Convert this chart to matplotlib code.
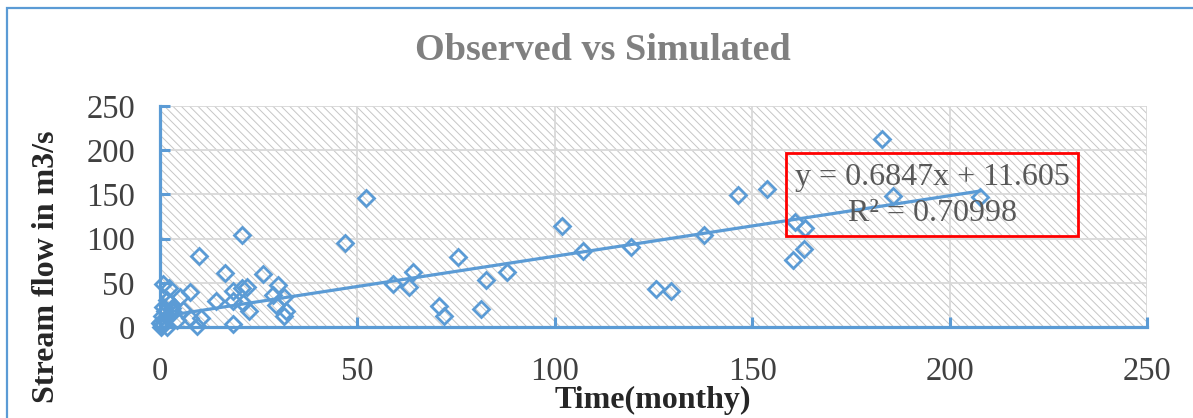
import matplotlib
matplotlib.use("Agg")
import matplotlib.pyplot as plt
from matplotlib.patches import Rectangle
import numpy as np

# Monthly time index and stream flow (m3/s)
time_months = [
    0.0, 0.3, 1.7, 0.4, 0.8, 0.8, 2.4, 1.7, 2.5, 3.4, 4.2, 5.9, 5.0, 7.6, 7.6,
    9.3, 10.5, 10.0, 14.3, 16.4, 18.6, 18.6, 18.6, 20.7, 20.7, 22.0, 21.1, 22.6,
    26.2, 29.9, 28.7, 31.4, 29.4, 32.0, 31.4, 1.0, 0.5, 2.0, 1.2, 0.2, 3.0,
    46.8, 52.2, 58.9, 63.1, 64.1, 70.7, 71.9, 75.4, 81.4, 82.7, 87.8,
    101.9, 107.2, 119.4, 125.7, 129.5, 137.7, 146.4, 153.8,
    160.3, 160.8, 163.0, 163.5, 183.0, 185.6, 207.6,
]
stream_flow = [
    4, 0, 0, 13, 23, 49, 44, 30, 27, 17, 8, 19, 34, 40, 10,
    1, 10, 80, 29, 61, 41, 29, 3, 104, 44, 45, 27, 18,
    60, 48, 36, 34, 25, 18, 13, 8, 2, 13, 18, 6, 22,
    95, 146, 49, 45, 62, 24, 12, 79, 20, 53, 62,
    114, 86, 90, 43, 41, 104, 149, 156,
    76, 119, 88, 112, 213, 148, 147,
]

# Linear trendline reported for the series
slope = 0.6847
intercept = 11.605
r_squared = 0.70998

x_ticks = [0, 50, 100, 150, 200, 250]
y_ticks = [0, 50, 100, 150, 200, 250]

BLUE = "#5B9BD5"
GRID = "#D9D9D9"
TEXT = "#595959"

plt.rcParams["font.family"] = ["Liberation Serif", "DejaVu Serif"]
plt.rcParams["hatch.linewidth"] = 0.7

W, H = 1193, 418
fig = plt.figure(figsize=(W / 100, H / 100), dpi=100)
fig.patch.set_facecolor("white")

# chart-area frame (only the top and left edges fall inside the canvas)
fig.add_artist(Rectangle((7 / W, -0.2), 1.5, 1.2 - 8 / H, transform=fig.transFigure,
                         fill=False, edgecolor=BLUE, linewidth=1.6, zorder=0))

ax = fig.add_axes([160 / W, 1 - 327 / H, (1147 - 160) / W, (327 - 106) / H])
ax.set_xlim(0, 250)
ax.set_ylim(0, 250)

# hatched plot-area fill
ax.add_patch(Rectangle((0, 0), 1, 1, transform=ax.transAxes, facecolor="white",
                       edgecolor="#C6C6C6", hatch="\\\\\\\\", linewidth=0, zorder=0))

ax.set_xticks(x_ticks)
ax.set_yticks(y_ticks)
ax.grid(True, color=GRID, linewidth=1.3, zorder=1)
ax.set_axisbelow(True)

for side in ("top", "right"):
    ax.spines[side].set_visible(False)
for side in ("left", "bottom"):
    ax.spines[side].set_color(BLUE)
    ax.spines[side].set_linewidth(2.3)
    ax.spines[side].set_zorder(3)

ax.tick_params(axis="both", direction="in", length=7, width=2.2, color=BLUE,
               labelsize=23.5, labelcolor="#404040")
ax.tick_params(axis="x", pad=21)
ax.tick_params(axis="y", pad=18)

ax.plot(time_months, stream_flow, linestyle="none", marker="D", markersize=8.5,
        markerfacecolor="none", markeredgecolor=BLUE, markeredgewidth=2.0,
        zorder=4, clip_on=False)

xt = np.array([min(time_months), max(time_months)])
ax.plot(xt, slope * xt + intercept, color=BLUE, linewidth=2.3, zorder=5)

# equation box
fig.add_artist(Rectangle((786 / W, 1 - 236 / H), (1078 - 786) / W, (236 - 153) / H,
                         transform=fig.transFigure, fill=False, edgecolor="#FF0000",
                         linewidth=2.0, zorder=6))
fig.text(932 / W, 1 - 178 / H, f"y = {slope}x + {intercept}", ha="center", va="center",
         fontsize=23, color=TEXT, zorder=7)
fig.text(932 / W, 1 - 213 / H, f"R\u00b2 = {r_squared}", ha="center", va="center",
         fontsize=23, color=TEXT, zorder=7)

fig.text(603 / W, 1 - 50 / H, "Observed vs Simulated", ha="center", va="center",
         fontsize=27.5, fontweight="bold", color="#808080")
fig.text(47 / W, 1 - 267 / H, "Stream flow in m3/s", ha="center", va="center",
         rotation=90, fontsize=23, fontweight="bold", color="#262626")
fig.text(653 / W, 1 - 400 / H, "Time(monthy)", ha="center", va="center",
         fontsize=23, fontweight="bold", color="#262626")

fig.savefig("out.png", dpi=100, facecolor="white")
